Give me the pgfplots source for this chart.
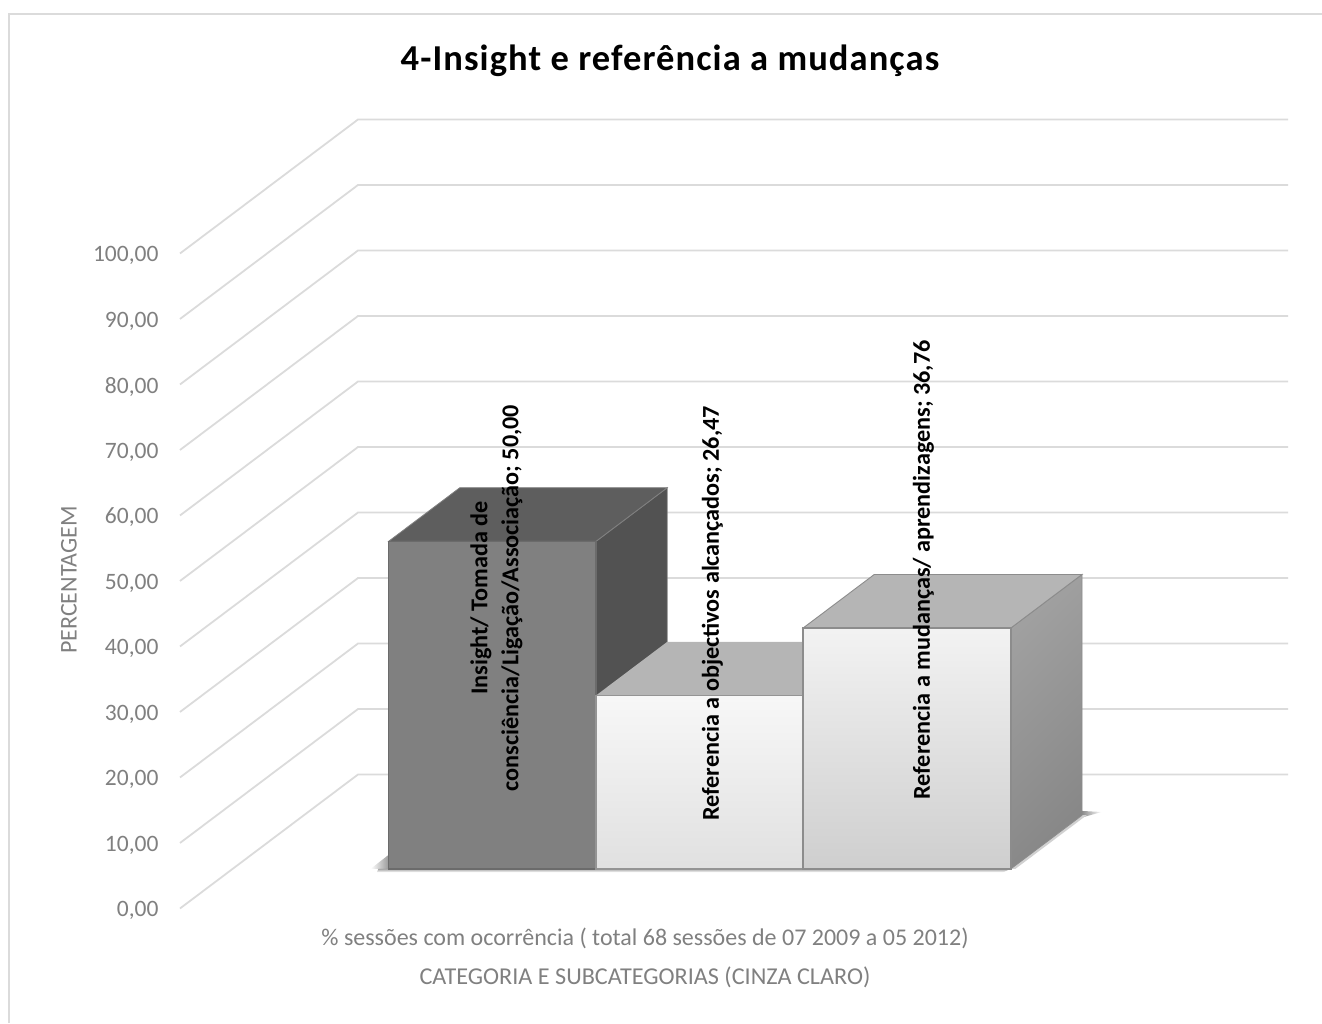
\documentclass[border=0pt]{standalone}
\usepackage{fontspec}
\setmainfont{Carlito}
\newfontfamily\titlefont[LetterSpace=3]{Carlito}
\usepackage{pgfplots}
\pgfplotsset{compat=1.18}

\definecolor{gridgray}{HTML}{DBDBDB}
\definecolor{textgray}{HTML}{808080}

% Three-sided column: front, top and right faces in an oblique projection.
% #1 left edge, #2 right edge, #3 value, #4 front style, #5 top style, #6 side style
\newcommand{\column}[6]{%
  \addplot3[#6] coordinates {(#2,0.296,0) (#2,0.696,0) (#2,0.696,#3) (#2,0.296,#3) (#2,0.296,0)} --cycle;
  \addplot3[#5] coordinates {(#1,0.296,#3) (#1,0.696,#3) (#2,0.696,#3) (#2,0.296,#3) (#1,0.296,#3)} --cycle;
  \addplot3[#4] coordinates {(#1,0.296,0) (#1,0.296,#3) (#2,0.296,#3) (#2,0.296,0) (#1,0.296,0)} --cycle;
}

\begin{document}
\begin{tikzpicture}[x=1pt,y=1pt]
\begin{axis}[
  anchor=origin, at={(180pt,114.5pt)},
  x={(310pt,0pt)}, y={(178pt,134pt)}, z={(0pt,6.55pt)},
  xmin=0, xmax=3, ymin=0, ymax=1, zmin=0, zmax=100,
  clip=false,
  axis line style={draw=none},
  tick style={draw=none},
  major tick length=0pt,
  xtick=\empty, ytick=\empty,
  ztick={0,10,...,100},
  zticklabel style={
    anchor=east, xshift=-18pt, yshift=-2pt, font=\fontsize{23.5}{26}\selectfont, text=textgray,
    /pgf/number format/.cd, fixed, fixed zerofill, precision=2, use comma,
    assume math mode=true},
  zticklabel pos=left,
  no marks,
  every axis plot/.append style={line join=miter},
]
  % walls
  \pgfplotsinvokeforeach{0,10,...,100}{
    \addplot3[gridgray, line width=1.8pt] coordinates {(0,0,#1) (0,1,#1) (3,1,#1)};
  }
  % soft floor shadow around the base of the columns
  \addplot3[draw=none, left color=white, right color=black!40] coordinates {(0.445,0.296,0) (0.503,0.296,0) (0.443,0.40,0) (0.445,0.296,0)} --cycle;
  \addplot3[draw=none, left color=black!45, right color=white] coordinates {(2.492,0.728,0) (2.56,0.72,0) (2.52,0.68,0) (2.492,0.728,0)} --cycle;
  \addplot3[draw=none, top color=black!35, bottom color=white] coordinates {(0.47,0.296,0) (2.51,0.296,0) (2.50,0.27,0) (0.48,0.27,0) (0.47,0.296,0)} --cycle;
  \addplot3[draw=none, fill=black!18] coordinates {(2.51,0.296,0) (2.525,0.296,0) (2.525,0.696,0) (2.51,0.696,0) (2.51,0.296,0)} --cycle;

  \column{0.503}{1.172}{50.00}
    {draw=black!58, line width=1.4pt, fill=black!50}
    {draw=black!50, line width=0.8pt, fill=black!63}
    {draw=black!50, line width=0.8pt, fill=black!68}
  \column{1.172}{1.84}{26.47}
    {draw=black!42, line width=1.4pt, shade, top color=black!3, bottom color=black!12}
    {draw=none, fill=black!29}
    {draw=none, fill=black!45}
  \column{1.84}{2.51}{36.76}
    {draw=black!45, line width=1.4pt, shade, top color=black!5, bottom color=black!19}
    {draw=black!45, line width=0.9pt, fill=black!29}
    {draw=black!45, line width=0.9pt, top color=black!37, bottom color=black!47, shading angle=45}
\end{axis}

% chart title, axis names and data labels
\node[font=\titlefont\fontsize{36.5}{40}\selectfont\bfseries] at (670pt,962pt) {4-Insight e referência a mudanças};
\node[rotate=90, text=textgray, font=\fontsize{24}{28}\selectfont] at (69pt,443pt) {PERCENTAGEM};
\node[text=textgray, font=\fontsize{24}{28}\selectfont] at (645pt,85pt) {\% sessões com ocorrência ( total 68 sessões de 07 2009 a 05 2012)};
\node[text=textgray, font=\fontsize{24.2}{28}\selectfont] at (645pt,46pt) {CATEGORIA E SUBCATEGORIAS (CINZA CLARO)};
\node[rotate=90, align=center, font=\fontsize{24.2}{31}\selectfont\bfseries] at (496.5pt,425pt) {Insight/ Tomada de\\consciência/Ligação/Associação; 50,00};
\node[rotate=90, font=\fontsize{24.2}{28}\selectfont\bfseries] at (712.5pt,409.5pt) {Referencia a objectivos alcançados; 26,47};
\node[rotate=90, font=\fontsize{24.2}{28}\selectfont\bfseries] at (923.5pt,453pt) {Referencia a mudanças/ aprendizagens; 36,76};

% outer frame: top and left edges
\draw[gridgray, line width=2pt] (9pt,0pt) -- (9pt,1009pt) -- (1322pt,1009pt);

\pgfresetboundingbox
\useasboundingbox (0pt,0pt) rectangle (1322pt,1023pt);
\end{tikzpicture}
\end{document}
